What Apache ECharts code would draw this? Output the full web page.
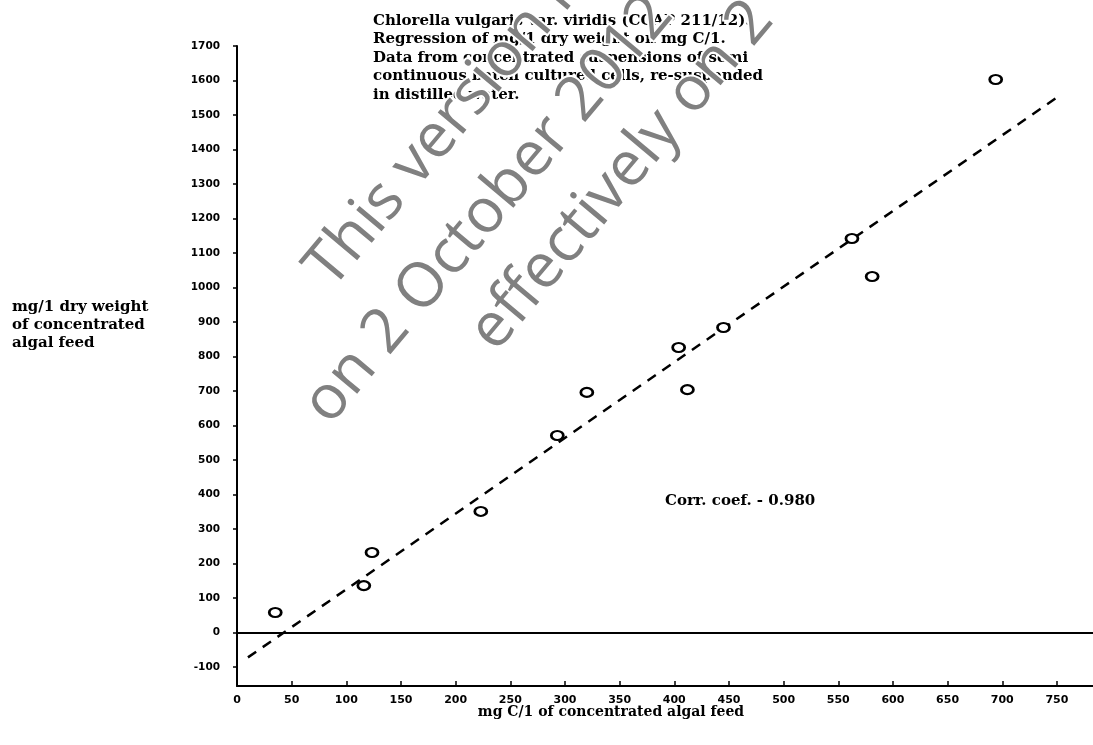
<!DOCTYPE html>
<html>
<head>
<meta charset="utf-8">
<script src="https://cdn.jsdelivr.net/npm/echarts@6/dist/echarts.min.js"></script>
<style>
  html, body { margin: 0; padding: 0; background: #ffffff; }
  #chart { width: 1093px; height: 745px; }
</style>
</head>
<body>
<div id="chart"></div>
<script>
// Measured points: carbon (mg C/1) against dry weight (mg/1)
const carbonMg    = [35, 116, 123.5, 223, 293, 320, 404, 412, 445, 562.5, 581, 694];
const dryWeightMg = [58, 136, 232, 351, 571, 696, 826, 704, 884, 1142, 1032, 1603];

// Ends of the fitted regression line
const fitCarbon    = [10, 750];
const fitDryWeight = [-72, 1551];

// Tick positions
const xTicks = [0, 50, 100, 150, 200, 250, 300, 350, 400, 450, 500, 550, 600, 650, 700, 750];
const yTicks = [-100, 0, 100, 200, 300, 400, 500, 600, 700, 800, 900, 1000, 1100, 1200, 1300, 1400, 1500, 1600, 1700];

// Text blocks
const titleLines = [
  'Chlorella vulgaris var. viridis (CCAP 211/12).',
  'Regression of mg/1 dry weight on mg C/1.',
  'Data from concentrated suspensions of semi',
  'continuous batch cultured cells, re-suspended',
  'in distilled water.'
];
const yNameLines = ['mg/1 dry weight', 'of concentrated', 'algal feed'];
const xName = 'mg C/1 of concentrated algal feed';
const corrLabel = 'Corr. coef. - 0.980';
const watermarkLines = ['This version is', 'on 2 October 2012', 'effectively on 2'];

const chart = echarts.init(document.getElementById('chart'), null, { renderer: 'canvas' });

const serifBold = 'bold 15px "DejaVu Serif"';
const serifBoldSmall = 'bold 14px "DejaVu Serif"';

function textEl(str, x, y, font, align, vAlign) {
  return {
    type: 'text',
    x: x, y: y,
    z: 50,
    silent: true,
    style: {
      text: str, x: 0, y: 0, font: font, fill: '#000',
      align: align, verticalAlign: vAlign,
      textAlign: align, textVerticalAlign: vAlign
    }
  };
}

const graphics = [];
titleLines.forEach((t, i) => graphics.push(textEl(t, 373, 21 + i * 18.5, serifBold, 'left', 'middle')));
yNameLines.forEach((t, i) => graphics.push(textEl(t, 12, 307 + i * 18, serifBold, 'left', 'middle')));
graphics.push(textEl(xName, 611, 712, serifBoldSmall, 'center', 'middle'));
graphics.push(textEl(corrLabel, 665, 501, serifBold, 'left', 'middle'));

// Diagonal grey notice drawn over the heading text (white outline knocks out what lies beneath)
const wmStarts = [[342, 299], [340, 435], [506, 362]];
watermarkLines.forEach((t, i) => {
  graphics.push({
    type: 'text',
    x: wmStarts[i][0], y: wmStarts[i][1],
    rotation: 50 * Math.PI / 180,
    z: 100,
    silent: true,
    style: {
      text: t, x: 0, y: 0,
      font: '62px "Open Sans"',
      fill: '#808080',
      stroke: '#ffffff', lineWidth: 4,
      align: 'left', verticalAlign: 'bottom',
      textAlign: 'left', textVerticalAlign: 'bottom'
    }
  });
});

const plainNumber = v => String(v);

const option = {
  backgroundColor: '#ffffff',
  animation: false,
  grid: { left: 237, right: 0, top: 46, bottom: 59, containLabel: false },
  xAxis: {
    type: 'value',
    min: 0, max: 783,
    axisLine: { show: true, onZero: false, lineStyle: { color: '#000', width: 2 } },
    axisTick: { show: true, inside: true, customValues: xTicks, length: 5, lineStyle: { color: '#000', width: 1.5 } },
    axisLabel: {
      customValues: xTicks, margin: 9, formatter: plainNumber,
      color: '#000', fontFamily: 'DejaVu Sans', fontWeight: 'bold', fontSize: 11
    },
    splitLine: { show: false }
  },
  yAxis: {
    type: 'value',
    min: -155, max: 1700,
    axisLine: { show: true, onZero: false, lineStyle: { color: '#000', width: 2 } },
    axisTick: { show: true, customValues: yTicks, length: 4, lineStyle: { color: '#000', width: 1.5 } },
    axisLabel: {
      customValues: yTicks, margin: 17, formatter: plainNumber,
      color: '#000', fontFamily: 'DejaVu Sans', fontWeight: 'bold', fontSize: 10.5
    },
    splitLine: { show: false }
  },
  series: [
    {
      type: 'line',
      data: fitCarbon.map((x, i) => [x, fitDryWeight[i]]),
      showSymbol: false,
      silent: true,
      lineStyle: { color: '#000', width: 2.5, type: [10, 8] },
      z: 2
    },
    {
      type: 'scatter',
      data: carbonMg.map((x, i) => [x, dryWeightMg[i]]),
      symbol: 'circle',
      symbolSize: [12, 9],
      itemStyle: { color: '#ffffff', borderColor: '#000', borderWidth: 2.4, opacity: 1 },
      z: 3,
      markLine: {
        silent: true,
        symbol: ['none', 'none'],
        label: { show: false },
        lineStyle: { color: '#000', width: 2, type: 'solid' },
        data: [{ yAxis: 0 }]
      }
    }
  ],
  graphic: graphics
};

chart.setOption(option);
</script>
</body>
</html>
